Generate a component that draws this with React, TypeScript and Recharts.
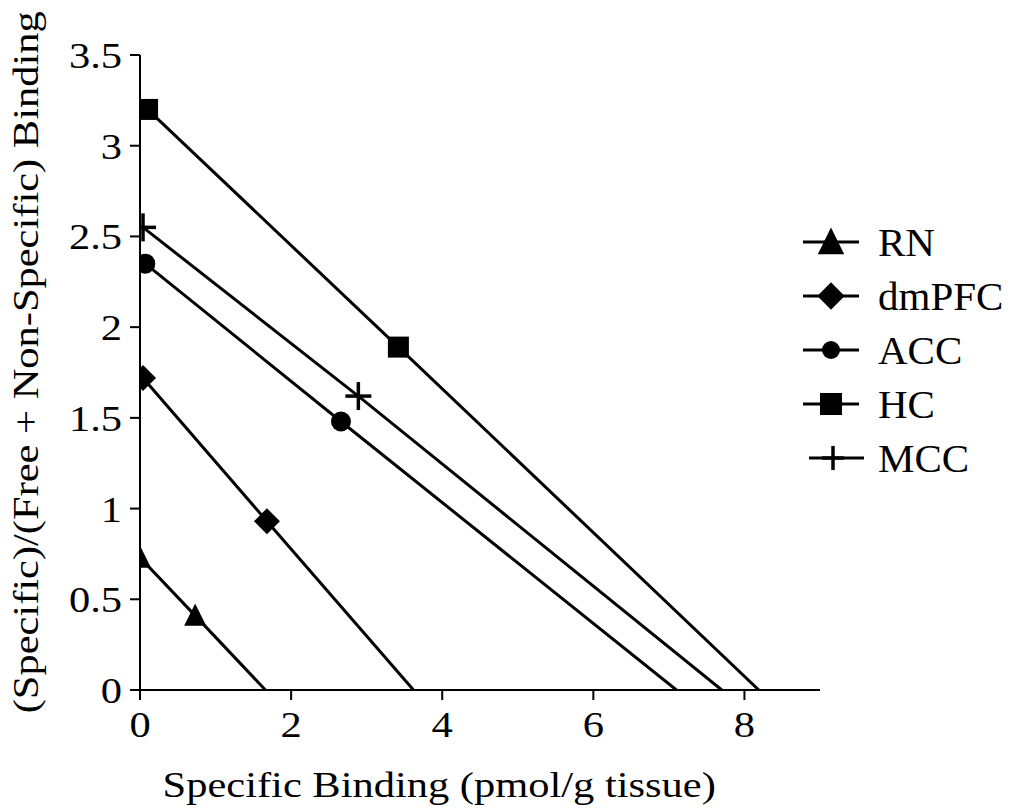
import React from "react";
import { LineChart, Line, XAxis, YAxis, Legend } from "recharts";

// Scatchard plot: measured points plus the fitted x-intercept for each region
const regions = ["RN", "dmPFC", "ACC", "HC", "MCC"];
const shapes = ["triangle", "diamond", "circle", "square", "plus"];

const rnX = [0.0, 0.73];
const rnY = [0.73, 0.41];
const dmpfcX = [0.04, 1.68];
const dmpfcY = [1.72, 0.93];
const accX = [0.07, 2.66];
const accY = [2.35, 1.48];
const hcX = [0.1, 3.42];
const hcY = [3.2, 1.89];
const mccX = [0.04, 2.89];
const mccY = [2.55, 1.62];
const intercepts = [1.66, 3.62, 7.1, 8.19, 7.7];

const xTicks = [0, 2, 4, 6, 8];
const yTicks = [0, 0.5, 1, 1.5, 2, 2.5, 3, 3.5];

const xs = [rnX, dmpfcX, accX, hcX, mccX];
const ys = [rnY, dmpfcY, accY, hcY, mccY];

const series = regions.map((name, i) => ({
  name,
  shape: shapes[i],
  data: [
    ...xs[i].map((x, j) => ({ x, y: ys[i][j], m: true })),
    { x: intercepts[i], y: 0, m: false },
  ],
}));

const FONT = '"Liberation Serif", "Times New Roman", serif';
const STRETCH = 1.18;

function Marker({ shape, cx, cy, k = 1 }: { shape: string; cx: number; cy: number; k?: number }) {
  if (shape === "triangle") {
    const w = 11 * k, h = 12 * k;
    return <polygon points={`${cx},${cy - h} ${cx + w},${cy + h * 0.85} ${cx - w},${cy + h * 0.85}`} fill="#000" />;
  }
  if (shape === "diamond") {
    const d = 13 * k;
    return <polygon points={`${cx},${cy - d} ${cx + d},${cy} ${cx},${cy + d} ${cx - d},${cy}`} fill="#000" />;
  }
  if (shape === "circle") return <circle cx={cx} cy={cy} r={10 * k} fill="#000" />;
  if (shape === "square") {
    const s = 10.5 * k;
    return <rect x={cx - s} y={cy - s} width={2 * s} height={2 * s} fill="#000" />;
  }
  const a = 13 * k;
  return (
    <g stroke="#000" strokeWidth={3.5}>
      <line x1={cx - a} y1={cy} x2={cx + a} y2={cy} />
      <line x1={cx} y1={cy - a - 1} x2={cx} y2={cy + a + 1} />
    </g>
  );
}

const XTick = (props: any) => {
  const { x, y, payload } = props;
  return (
    <g transform={`translate(${x},${y}) scale(${STRETCH},1)`}>
      <text x={0} y={35} textAnchor="middle" fontFamily={FONT} fontSize={36} fill="#000">
        {payload.value}
      </text>
    </g>
  );
};

const YTick = (props: any) => {
  const { x, y, payload } = props;
  return (
    <g transform={`translate(${x - 6},${y}) scale(${STRETCH},1)`}>
      <text x={0} y={13} textAnchor="end" fontFamily={FONT} fontSize={36} fill="#000">
        {payload.value}
      </text>
    </g>
  );
};

const XLabel = (props: any) => {
  const vb = props.viewBox;
  return (
    <g transform={`translate(${vb.x + vb.width * 0.44},${vb.y + 107}) scale(${STRETCH},1)`}>
      <text textAnchor="middle" fontFamily={FONT} fontSize={36} fill="#000">
        Specific Binding (pmol/g tissue)
      </text>
    </g>
  );
};

const YLabel = (props: any) => {
  const vb = props.viewBox;
  return (
    <g transform={`translate(38,${vb.y + vb.height * 0.484}) rotate(-90) scale(${STRETCH},1)`}>
      <text textAnchor="middle" fontFamily={FONT} fontSize={36} fill="#000">
        (Specific)/(Free + Non-Specific) Binding
      </text>
    </g>
  );
};

const legendSize: Record<string, number> = { triangle: 1.2, diamond: 1.05, circle: 0.9, square: 1.05, plus: 0.85 };

const LegendBox = () => (
  <div style={{ display: "flex", flexDirection: "column", fontFamily: FONT }}>
    {series.map((s) => {
      const plus = s.shape === "plus";
      return (
        <div key={s.name} style={{ display: "flex", alignItems: "center", height: 54 }}>
          <svg width={66} height={54}>
            <line x1={plus ? 9 : 3} y1={27} x2={plus ? 64 : 59} y2={27} stroke="#000" strokeWidth={3} />
            <Marker shape={s.shape} cx={plus ? 33 : 31} cy={27} k={legendSize[s.shape]} />
          </svg>
          <span style={{ fontSize: 41, marginLeft: 12, lineHeight: "54px", color: "#000" }}>{s.name}</span>
        </div>
      );
    })}
  </div>
);

export default function App() {
  return (
    <div style={{ position: "absolute", left: 0, top: 0, background: "#fff" }}>
      <LineChart width={1024} height={810} margin={{ top: 55, right: 204, left: 0, bottom: 0 }}>
        <XAxis
          type="number"
          dataKey="x"
          domain={[0, 9]}
          ticks={xTicks}
          allowDataOverflow
          height={120}
          tickSize={10}
          axisLine={{ stroke: "#000", strokeWidth: 2 }}
          tickLine={{ stroke: "#000", strokeWidth: 2 }}
          tick={<XTick />}
          label={{ content: <XLabel /> }}
        />
        <YAxis
          type="number"
          dataKey="y"
          domain={[0, 3.5]}
          ticks={yTicks}
          allowDataOverflow
          width={140}
          tickSize={10}
          axisLine={{ stroke: "#000", strokeWidth: 2 }}
          tickLine={{ stroke: "#000", strokeWidth: 2 }}
          tick={<YTick />}
          label={{ content: <YLabel /> }}
        />
        <Legend
          layout="vertical"
          align="center"
          verticalAlign="middle"
          wrapperStyle={{ left: 800, top: 215, width: 220 }}
          content={<LegendBox />}
        />
        {series.map((s) => (
          <Line
            key={s.name}
            name={s.name}
            data={s.data}
            dataKey="y"
            type="linear"
            stroke="#000"
            strokeWidth={3}
            isAnimationActive={false}
            activeDot={false}
            dot={(p: any) =>
              p.payload.m ? (
                <Marker key={`${s.name}-${p.index}`} shape={s.shape} cx={p.cx} cy={p.cy} />
              ) : (
                <g key={`${s.name}-${p.index}`} />
              )
            }
          />
        ))}
      </LineChart>
    </div>
  );
}
